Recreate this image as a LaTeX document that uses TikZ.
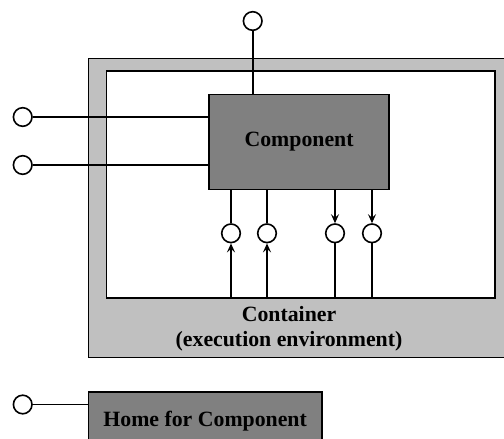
\documentclass[tikz,border=0pt]{standalone}
\usepackage{fontspec}
\setmainfont{Liberation Serif}
\usepackage{xcolor}
\usepackage{tikz}
\usetikzlibrary{positioning,arrows.meta}

\definecolor{outergray}{HTML}{C0C0C0}
\definecolor{boxgray}{HTML}{808080}

\begin{document}
\begin{tikzpicture}[x=1pt,y=-1pt,line width=1.6pt,>={Stealth[length=9pt,width=8pt,inset=3.5pt]}]

  \tikzstyle{port}=[circle,draw,fill=white,minimum size=18.6pt,inner sep=0pt]
  \tikzstyle{part}=[rectangle,draw,fill=boxgray,anchor=north west,inner sep=0pt,
    font=\fontsize{21.8}{25}\selectfont\bfseries]
  \tikzstyle{frame}=[rectangle,draw,anchor=north west,inner sep=0pt]

  \useasboundingbox (0,0) rectangle (504,439);
  \clip (0,0) rectangle (504,439);

  % container and its inner area
  \node[frame,fill=outergray,minimum width=430pt,minimum height=299pt] (container) at (87.7,57.7) {};
  \node[frame,fill=white,minimum width=388.6pt,minimum height=227.3pt] (inner) at (105.7,70) {};
  \node[align=center,font=\fontsize{21.8}{25}\selectfont\bfseries] (label) at (289,329)
    {Container\\(execution environment)};

  % component
  \node[part,minimum width=180pt,minimum height=95pt] (comp) at (208.3,93.7) {Component};

  \node[port] (top) at (252.7,21) {};
  \node[port] (in1) at (22.7,117) {};
  \node[port] (in2) at (22.7,165) {};

  \draw (top) -- (top |- comp.north);
  \draw (in1) -- (in1 -| comp.west);
  \draw (in2) -- (in2 -| comp.west);

  % ports at the bottom
  \node[port] (p1) at (231,233.3) {};
  \node[port] (p2) at (267,233.3) {};
  \node[port] (p3) at (335,233.3) {};
  \node[port] (p4) at (372,233.3) {};

  \foreach \p in {p1,p2} {
    \draw (\p |- comp.south) -- (\p);
    \draw[->] (\p |- inner.south) -- (\p);
  }
  \foreach \p in {p3,p4} {
    \draw[->] (\p |- comp.south) -- (\p);
    \draw (\p) -- (\p |- inner.south);
  }

  % home
  \node[part,minimum width=233.3pt,minimum height=58pt] (home) at (87.7,391) {Home for Component};
  \node[port] (hp) at (22.7,404.5) {};
  \draw (hp) -- (hp -| home.west);

\end{tikzpicture}
\end{document}
